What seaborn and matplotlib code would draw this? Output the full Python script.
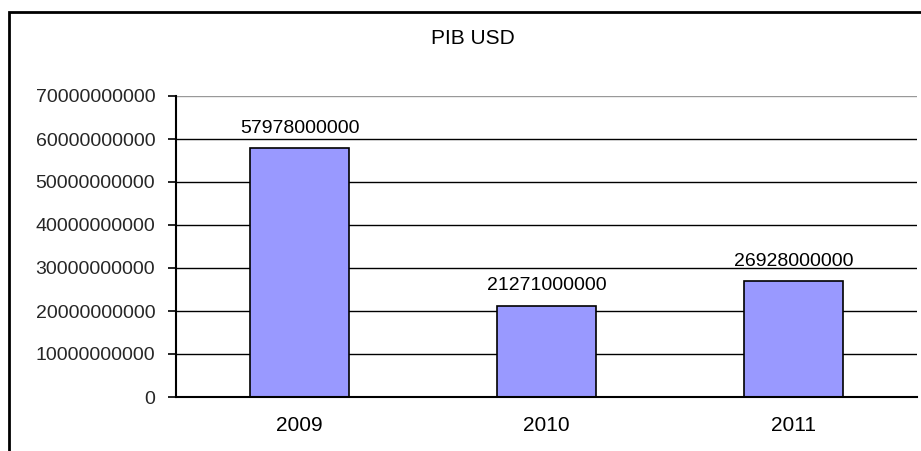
import matplotlib
matplotlib.use("Agg")
import matplotlib.pyplot as plt
import matplotlib.patches as mpatches
import seaborn as sns
import pandas as pd

years = ["2009", "2010", "2011"]
pib_usd = [57978000000, 21271000000, 26928000000]
title = "PIB USD"

sns.set_theme(style="white")
plt.rcParams['font.family'] = ['Liberation Sans', 'DejaVu Sans']

W, H = 921, 451
fig = plt.figure(figsize=(W / 100, H / 100), dpi=100)
ax = fig.add_axes([176 / W, 1 - 397 / H, (917 - 176) / W, (397 - 96) / H])

df = pd.DataFrame({"year": years, "value": pib_usd})
sns.barplot(data=df, x="year", y="value", color="#9999FF", edgecolor="black",
            linewidth=1.2, width=0.4, saturation=1, ax=ax, zorder=3)

ax.set_xlim(-0.5, 2.5)
ax.set_ylim(0, 70000000000)
yt = list(range(0, 70000000001, 10000000000))
ax.set_yticks(yt)
ax.set_yticklabels([str(v) for v in yt])
for v in yt[1:-1]:
    ax.axhline(v, color="black", lw=1, zorder=1)
ax.axhline(yt[-1], color="#999999", lw=1, zorder=1)

ax.set_xticks([0, 1, 2])
ax.set_xticklabels(years)
ax.set_xticks([-0.5, 0.5, 1.5, 2.5], minor=True)
ax.tick_params(axis="x", which="major", length=0, pad=14, labelsize=15, colors="black")
ax.tick_params(axis="x", which="minor", length=5, width=1.2, direction="out", color="black")
ax.tick_params(axis="y", length=6, width=1.2, direction="out", color="black",
               labelsize=14, pad=9, left=True)
ax.set_xlabel("")
ax.set_ylabel("")

for s in ["top", "right"]:
    ax.spines[s].set_visible(False)
for s in ["left", "bottom"]:
    ax.spines[s].set_color("black")
    ax.spines[s].set_linewidth(1.5)
    ax.spines[s].set_zorder(4)

for i, v in enumerate(pib_usd):
    ax.annotate(str(v), (i, v), xytext=(0, 8), textcoords="offset points",
                ha="center", va="bottom", fontsize=14, color="black")

fig.text(473 / W, 1 - 39 / H, title,
         ha="center", va="center", fontsize=15, color="black")

border = mpatches.Rectangle((9 / W, -0.05), 1.2, 1 - 12 / H + 0.05,
                            transform=fig.transFigure, fill=False,
                            edgecolor="black", lw=2, clip_on=False)
fig.patches.append(border)

fig.savefig("out.png", dpi=100)
